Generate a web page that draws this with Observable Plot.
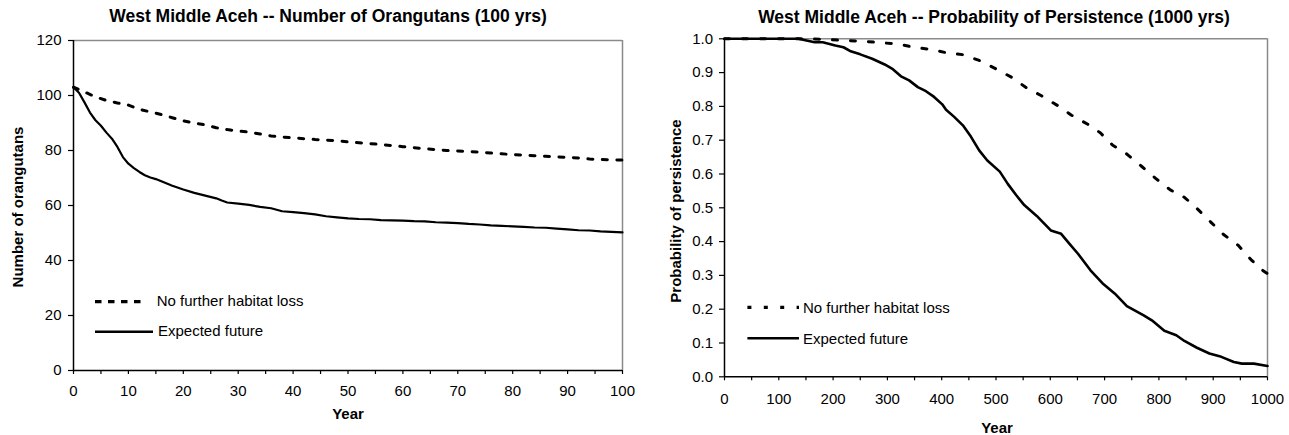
<!DOCTYPE html>
<html><head><meta charset="utf-8">
<script src="https://cdn.jsdelivr.net/npm/d3@7"></script>
<script src="https://cdn.jsdelivr.net/npm/@observablehq/plot@0.6"></script>
<style>
html,body{margin:0;padding:0;background:#fff;}
#wrap{position:relative;width:1289px;height:435px;overflow:hidden;font-family:"Liberation Sans",Arial,sans-serif;color:#000;background:#fff;}
.t{position:absolute;white-space:nowrap;line-height:1;transform:translate(-50%,-50%);}
.title{font-weight:bold;font-size:17.5px;}
.axl{font-weight:bold;font-size:15px;}
.rot{transform:translate(-50%,-50%) rotate(-90deg);}
.leg{position:absolute;white-space:nowrap;line-height:1;font-size:15px;transform:translate(0,-50%);}
svg.legsvg{position:absolute;left:0;top:0;overflow:visible;pointer-events:none;}
</style></head>
<body><div id="wrap"></div>
<script>
// ---------- Left chart: Number of orangutans (100 yrs) ----------
const leftTitle = "West Middle Aceh -- Number of Orangutans (100 yrs)";
const leftYLabel = "Number of orangutans";
const leftXLabel = "Year";
const leftXTicks = [0,5,10,15,20,25,30,35,40,45,50,55,60,65,70,75,80,85,90,95,100];
const leftYTicks = [0,20,40,60,80,100,120];

const leftNoLossYears = [0,2,4,6,8,10,12,14,16,18,20,22,24,26,28,30,32,34,36,38,40,42,44,46,48,50,52,54,56,58,60,62,64,66,68,70,72,74,76,78,80,82,84,86,88,90,92,94,96,98,100];
const leftNoLoss = [103,101.3,99.5,98.2,97.3,96.5,95,94,93.1,91.9,90.8,90,89.3,88.3,87.6,87.1,86.7,86.0,85.3,84.9,84.6,84.3,84.0,83.8,83.6,83.1,82.8,82.5,82.2,81.8,81.4,81.0,80.7,80.3,80.0,79.8,79.6,79.4,79.1,78.8,78.5,78.3,78.1,77.9,77.7,77.5,77.3,76.9,76.7,76.6,76.5];

const leftExpYears = [0,1,2,3,4,5,6,7,8,9,10,11,12,13,14,15,16,18,20,22,24,26,27,28,30,32,34,36,38,40,42,44,46,48,50,52,54,56,58,60,62,64,66,68,70,72,74,76,78,80,82,84,86,88,90,92,94,96,98,100];
const leftExp = [103,101,97.5,93.8,91,89,86.5,84.3,81.3,77.6,75.2,73.6,72.2,71,70.2,69.6,68.8,67.2,65.8,64.6,63.6,62.6,61.8,61.1,60.7,60.2,59.5,59.0,57.9,57.6,57.2,56.8,56.1,55.7,55.3,55.1,55.0,54.7,54.6,54.5,54.3,54.2,53.9,53.8,53.6,53.3,53.1,52.8,52.6,52.4,52.2,52.0,51.9,51.6,51.3,51.0,50.9,50.6,50.4,50.2];

// ---------- Right chart: Probability of persistence (1000 yrs) ----------
const rightTitle = "West Middle Aceh -- Probability of Persistence (1000 yrs)";
const rightYLabel = "Probability of persistence";
const rightXLabel = "Year";
const rightXTicks = [0,50,100,150,200,250,300,350,400,450,500,550,600,650,700,750,800,850,900,950,1000];
const rightYTicks = [0,0.1,0.2,0.3,0.4,0.5,0.6,0.7,0.8,0.9,1.0];

const rightNoLossYears = [0,100,150,189,219,253,291,318,348,378,408,439,469,499,530,556,582,613,639,669,692,715,741,768,794,821,847,870,896,919,946,970,991,1000];
const rightNoLoss = [1,1,1,0.998,0.995,0.993,0.988,0.985,0.975,0.969,0.959,0.953,0.936,0.912,0.885,0.855,0.833,0.803,0.774,0.747,0.722,0.685,0.659,0.623,0.587,0.553,0.531,0.498,0.457,0.421,0.389,0.346,0.315,0.305];

const rightExpYears = [0,50,100,136,166,181,204,219,231,250,272,295,310,325,340,356,371,386,401,408,423,439,454,469,484,507,522,537,552,575,601,620,635,651,674,696,719,741,772,787,810,832,847,870,893,915,938,953,975,1000];
const rightExp = [1,1,1,1,0.99,0.99,0.98,0.975,0.964,0.954,0.941,0.924,0.91,0.889,0.877,0.857,0.845,0.828,0.806,0.79,0.769,0.744,0.71,0.67,0.64,0.607,0.57,0.538,0.508,0.476,0.433,0.423,0.394,0.364,0.315,0.277,0.246,0.209,0.182,0.167,0.136,0.123,0.106,0.086,0.069,0.059,0.044,0.039,0.039,0.032];

const seriesNames = ["No further habitat loss", "Expected future"];

// ---------- build ----------
const wrap = document.getElementById("wrap");
const toRows = (xs, ys) => xs.map((x, i) => ({x, y: ys[i]}));

function makeChart(cfg) {
  const svg = Plot.plot({
    width: cfg.width, height: 435,
    marginLeft: cfg.ml, marginRight: cfg.mr, marginTop: cfg.mt, marginBottom: cfg.mb,
    style: {fontFamily: '"Liberation Sans", Arial, sans-serif', fontSize: "15px", color: "#000", background: "transparent", overflow: "visible"},
    x: {domain: cfg.xDomain, label: null},
    y: {domain: cfg.yDomain, label: null},
    marks: [
      Plot.ruleY([cfg.yDomain[1]], {stroke: "#8a8a8a", strokeWidth: 1.5}),
      Plot.ruleX([cfg.xDomain[1]], {stroke: "#8a8a8a", strokeWidth: 1.5}),
      Plot.line(cfg.noLoss, {x: "x", y: "y", stroke: "#000", strokeWidth: 3, strokeDasharray: cfg.dash}),
      Plot.line(cfg.exp, {x: "x", y: "y", stroke: "#000", strokeWidth: cfg.solidW}),
      Plot.axisX({ticks: cfg.xTicks, tickFormat: cfg.xFmt, tickSize: 4, tickPadding: cfg.xPad, strokeWidth: 1.2}),
      Plot.axisY({ticks: cfg.yTicks, tickFormat: cfg.yFmt, tickSize: 5, tickPadding: cfg.yPad, strokeWidth: 1.2}),
      Plot.ruleX([cfg.xDomain[0]], {stroke: "#000", strokeWidth: 1.5}),
      Plot.ruleY([cfg.yDomain[0]], {stroke: "#000", strokeWidth: 1.5})
    ]
  });
  svg.style.position = "absolute";
  svg.style.left = cfg.left + "px";
  svg.style.top = "0px";
  wrap.appendChild(svg);
}

makeChart({
  left: 0, width: 650, ml: 73, mr: 28, mt: 40, mb: 65,
  xDomain: [0, 100], yDomain: [0, 120],
  xTicks: leftXTicks, yTicks: leftYTicks,
  xFmt: d => d % 10 === 0 ? String(d) : "", yFmt: d => String(d),
  xPad: 11, yPad: 7,
  noLoss: toRows(leftNoLossYears, leftNoLoss), exp: toRows(leftExpYears, leftExp),
  dash: "5,9.5", solidW: 2.2
});
makeChart({
  left: 650, width: 639, ml: 74, mr: 22, mt: 38.3, mb: 58.7,
  xDomain: [0, 1000], yDomain: [0, 1],
  xTicks: rightXTicks, yTicks: rightYTicks,
  xFmt: d => d % 100 === 0 ? String(d) : "", yFmt: d => d.toFixed(1),
  xPad: 13, yPad: 6.5,
  noLoss: toRows(rightNoLossYears, rightNoLoss), exp: toRows(rightExpYears, rightExp),
  dash: "5,13", solidW: 2.6
});

// ---------- texts ----------
function addText(txt, cls, x, y) {
  const d = document.createElement("div");
  d.className = cls; d.textContent = txt;
  d.style.left = x + "px"; d.style.top = y + "px";
  wrap.appendChild(d);
}
addText(leftTitle, "t title", 328, 16.7);
addText(rightTitle, "t title", 994, 18.3);
addText(leftYLabel, "t axl rot", 17, 206.5);
addText(rightYLabel, "t axl rot", 674.6, 210.5);
addText(leftXLabel, "t axl", 348, 413.3);
addText(rightXLabel, "t axl", 997, 426.7);

// ---------- legends ----------
const NS = "http://www.w3.org/2000/svg";
const lsvg = document.createElementNS(NS, "svg");
lsvg.setAttribute("class", "legsvg");
lsvg.setAttribute("width", "1289"); lsvg.setAttribute("height", "435");
function seg(x1, x2, y, w, dash) {
  const l = document.createElementNS(NS, "line");
  l.setAttribute("x1", x1); l.setAttribute("x2", x2);
  l.setAttribute("y1", y); l.setAttribute("y2", y);
  l.setAttribute("stroke", "#000"); l.setAttribute("stroke-width", w);
  if (dash) l.setAttribute("stroke-dasharray", dash);
  lsvg.appendChild(l);
}
seg(95, 145, 301.7, 3.3, "6.5,6.5");
seg(95, 153, 331.7, 2.4, null);
seg(747.4, 799, 307.3, 3.2, "4,12.4");
seg(747.4, 799, 338.3, 2.6, null);
wrap.appendChild(lsvg);
function addLeg(txt, x, y) {
  const d = document.createElement("div");
  d.className = "leg"; d.textContent = txt;
  d.style.left = x + "px"; d.style.top = y + "px";
  wrap.appendChild(d);
}
addLeg(seriesNames[0], 156.7, 300);
addLeg(seriesNames[1], 158, 330);
addLeg(seriesNames[0], 803, 306.5);
addLeg(seriesNames[1], 803, 338);
</script>
</body></html>
